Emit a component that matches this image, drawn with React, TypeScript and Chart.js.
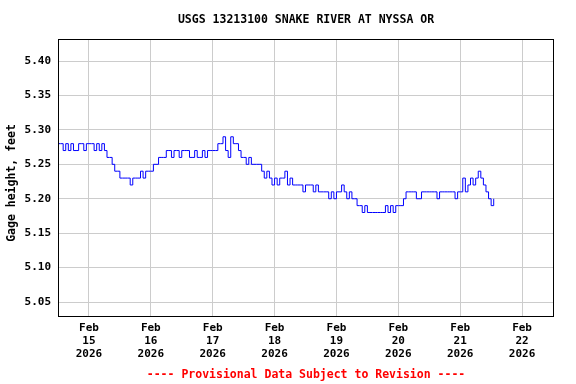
import { useEffect, useRef } from 'react';
import { Chart, registerables } from 'chart.js';

Chart.register(...registerables);

const TITLE = 'USGS 13213100 SNAKE RIVER AT NYSSA OR';
const Y_TITLE = 'Gage height, feet';
const FOOTER = '---- Provisional Data Subject to Revision ----';

// hours relative to Feb 15 2026 00:00
const START_HOUR = -12;
const STEP_HOURS = 1;

const gageHeight = [
  5.28, 5.28, 5.27, 5.28, 5.27, 5.28, 5.27, 5.27, 5.28, 5.28, 5.27, 5.28,
  5.28, 5.28, 5.27, 5.28, 5.27, 5.28, 5.27, 5.26, 5.26, 5.25, 5.24, 5.24,
  5.23, 5.23, 5.23, 5.23, 5.22, 5.23, 5.23, 5.23, 5.24, 5.23, 5.24, 5.24,
  5.24, 5.25, 5.25, 5.26, 5.26, 5.26, 5.27, 5.27, 5.26, 5.27, 5.27, 5.26,
  5.27, 5.27, 5.27, 5.26, 5.26, 5.27, 5.26, 5.26, 5.27, 5.26, 5.27, 5.27,
  5.27, 5.27, 5.28, 5.28, 5.29, 5.27, 5.26, 5.29, 5.28, 5.28, 5.27, 5.26,
  5.26, 5.25, 5.26, 5.25, 5.25, 5.25, 5.25, 5.24, 5.23, 5.24, 5.23, 5.22,
  5.23, 5.22, 5.23, 5.23, 5.24, 5.22, 5.23, 5.22, 5.22, 5.22, 5.22, 5.21,
  5.22, 5.22, 5.22, 5.21, 5.22, 5.21, 5.21, 5.21, 5.21, 5.20, 5.21, 5.20,
  5.21, 5.21, 5.22, 5.21, 5.20, 5.21, 5.20, 5.20, 5.19, 5.19, 5.18, 5.19,
  5.18, 5.18, 5.18, 5.18, 5.18, 5.18, 5.18, 5.19, 5.18, 5.19, 5.18, 5.19,
  5.19, 5.19, 5.20, 5.21, 5.21, 5.21, 5.21, 5.20, 5.20, 5.21, 5.21, 5.21,
  5.21, 5.21, 5.21, 5.20, 5.21, 5.21, 5.21, 5.21, 5.21, 5.21, 5.20, 5.21,
  5.21, 5.23, 5.21, 5.22, 5.23, 5.22, 5.23, 5.24, 5.23, 5.22, 5.21, 5.20,
  5.19, 5.20,
];

const dayTicks = [0, 24, 48, 72, 96, 120, 144, 168];
const dayLabels = ['15', '16', '17', '18', '19', '20', '21', '22'];
const MONTH_LABEL = 'Feb';
const YEAR_LABEL = '2026';
const yTicks = [5.05, 5.1, 5.15, 5.2, 5.25, 5.3, 5.35, 5.4];

const X_MIN = -12;
const X_MAX = 180;
const Y_MIN = 5.0297;
const Y_MAX = 5.432;

const FONT = "'DejaVu Sans Mono', monospace";

export default function App() {
  const canvasRef = useRef<HTMLCanvasElement | null>(null);

  useEffect(() => {
    const canvas = canvasRef.current;
    if (!canvas) return;

    const points = gageHeight.map((v, i) => ({ x: START_HOUR + i * STEP_HOURS, y: v }));

    const textPlugin = {
      id: 'usgsText',
      afterDraw(chart: any) {
        const { ctx, chartArea } = chart;
        ctx.save();
        // plot frame
        ctx.strokeStyle = '#000000';
        ctx.lineWidth = 1;
        ctx.strokeRect(
          Math.round(chartArea.left) + 0.5,
          Math.round(chartArea.top) + 0.5,
          Math.round(chartArea.right - chartArea.left),
          Math.round(chartArea.bottom - chartArea.top)
        );
        ctx.textAlign = 'center';
        ctx.textBaseline = 'middle';
        ctx.fillStyle = '#000000';
        ctx.font = `bold 11.5px ${FONT}`;
        ctx.fillText(TITLE, 306, 20);
        ctx.fillStyle = '#ff0000';
        ctx.fillText(FOOTER, 306, 375);
        ctx.fillStyle = '#000000';
        ctx.translate(12, 183);
        ctx.rotate(-Math.PI / 2);
        ctx.fillText(Y_TITLE, 0, 0);
        ctx.restore();
      },
    };

    const chart = new Chart(canvas, {
      type: 'line',
      data: {
        datasets: [
          {
            data: points,
            borderColor: '#0000ff',
            borderWidth: 1,
            pointRadius: 0,
            stepped: true,
            fill: false,
          },
        ],
      },
      options: {
        animation: false,
        responsive: false,
        devicePixelRatio: 1,
        layout: { padding: { left: 0, right: 23, top: 39, bottom: 0 } },
        plugins: {
          legend: { display: false },
          title: { display: false },
          tooltip: { enabled: false },
        },
        scales: {
          x: {
            type: 'linear',
            min: X_MIN,
            max: X_MAX,
            afterBuildTicks: (scale: any) => {
              scale.ticks = dayTicks.map((v) => ({ value: v }));
            },
            afterFit: (scale: any) => {
              scale.height = 68;
            },
            grid: { color: '#cccccc', lineWidth: 1, drawTicks: false },
            border: { display: false },
            ticks: {
              autoSkip: false,
              maxRotation: 0,
              minRotation: 0,
              padding: 6,
              color: '#000000',
              font: { family: FONT, size: 11, weight: 'bold', lineHeight: 1.18 },
              callback: (value: any) => {
                const idx = dayTicks.indexOf(Number(value));
                return idx >= 0 ? [MONTH_LABEL, dayLabels[idx], YEAR_LABEL] : '';
              },
            },
          },
          y: {
            type: 'linear',
            min: Y_MIN,
            max: Y_MAX,
            afterBuildTicks: (scale: any) => {
              scale.ticks = yTicks.map((v) => ({ value: v }));
            },
            afterFit: (scale: any) => {
              scale.width = 58;
            },
            grid: { color: '#cccccc', lineWidth: 1, drawTicks: false },
            border: { display: false },
            ticks: {
              padding: 7,
              color: '#000000',
              font: { family: FONT, size: 11, weight: 'bold' },
              callback: (value: any) => Number(value).toFixed(2),
            },
          },
        },
      },
      plugins: [textPlugin],
    });

    return () => {
      chart.destroy();
    };
  }, []);

  return (
    <div style={{ position: 'fixed', left: 0, top: 0, width: 576, height: 384, background: '#ffffff' }}>
      <canvas ref={canvasRef} width={576} height={384} style={{ display: 'block' }} />
    </div>
  );
}
